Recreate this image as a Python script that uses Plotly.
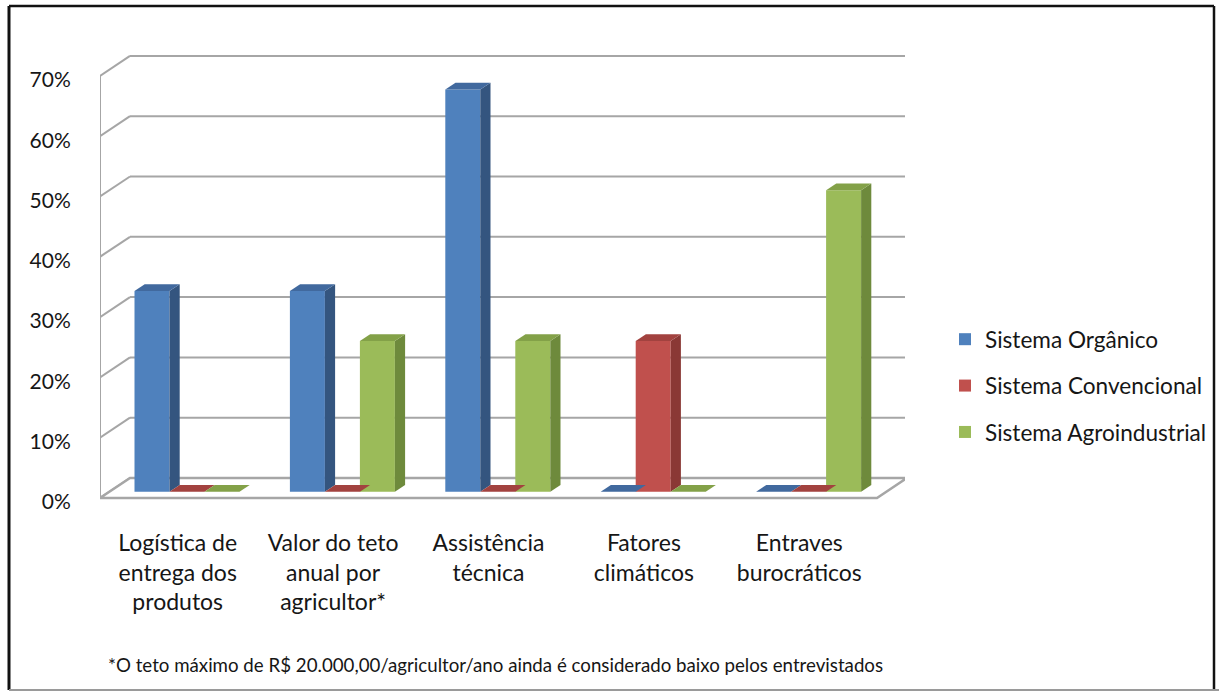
import plotly.graph_objects as go

# ---- data -------------------------------------------------------------
categories = [
    "Logística de<br>entrega dos<br>produtos",
    "Valor do teto<br>anual por<br>agricultor*",
    "Assistência<br>técnica",
    "Fatores<br>climáticos",
    "Entraves<br>burocráticos",
]
series_names = ["Sistema Orgânico", "Sistema Convencional", "Sistema Agroindustrial"]
organico = [33.3, 33.3, 66.7, 0, 0]
convencional = [0, 0, 0, 25, 0]
agroindustrial = [0, 25, 25, 0, 50]
y_ticks = [0, 10, 20, 30, 40, 50, 60, 70]
y_tick_labels = ["0%", "10%", "20%", "30%", "40%", "50%", "60%", "70%"]
footnote = "*O teto máximo de R$ 20.000,00/agricultor/ano ainda é considerado baixo pelos entrevistados"

series_values = [organico, convencional, agroindustrial]

# ---- styling ----------------------------------------------------------
W, H = 1219, 692
L_PX, R_PX, T_PX, B_PX = 100, 905, 50, 505          # plot area in pixels
X_PX_PER_UNIT = 155.4                                # pixels per category
Y_PX_PER_UNIT = 6.03                                 # pixels per percent
FLOOR_PX = 498                                       # pixel row of 0 % (front)
X_MAX = (R_PX - L_PX) / X_PX_PER_UNIT
Y_MIN = -(B_PX - FLOOR_PX) / Y_PX_PER_UNIT
Y_MAX = (FLOOR_PX - T_PX) / Y_PX_PER_UNIT

# oblique projection of the depth axis
DX = 30 / X_PX_PER_UNIT
DY = 20 / Y_PX_PER_UNIT
BAR_DEPTH_START = 0.31
BAR_DEPTH = 0.34
SX, SY = DX * BAR_DEPTH_START, DY * BAR_DEPTH_START
BDX, BDY = DX * BAR_DEPTH, DY * BAR_DEPTH
BW = 35 / X_PX_PER_UNIT

FRONT = ["#4F81BD", "#C0504D", "#9BBB59"]
SIDE = ["#34557F", "#8A3835", "#6E8A3C"]
TOP = ["#41699E", "#A2423F", "#83A148"]
GRID = "#A6A6A6"
FONT = "Lato, 'Open Sans', sans-serif"
TEXT = "#161616"

fig = go.Figure()

# ---- walls and floor -------------------------------------------------
shapes = []
for v in y_ticks:
    shapes.append(dict(type="line", xref="x", yref="y", x0=DX, y0=v + DY, x1=X_MAX, y1=v + DY,
                       line=dict(color=GRID, width=2), layer="below"))
    shapes.append(dict(type="line", xref="x", yref="y", x0=0, y0=v, x1=DX, y1=v + DY,
                       line=dict(color=GRID, width=2), layer="below"))
shapes.append(dict(type="line", xref="x", yref="y", x0=0, y0=0, x1=0, y1=y_ticks[-1],
                   line=dict(color=GRID, width=2), layer="below"))
n_cat = len(categories)
shapes.append(dict(type="path", xref="x", yref="y",
                   path=f"M 0 0 L {n_cat} 0 L {n_cat + DX} {DY} L {DX} {DY} Z",
                   fillcolor="white", line=dict(color=GRID, width=2.5), layer="below"))


def px_x(px):
    return (px - L_PX) / (R_PX - L_PX)


def px_y(py):
    return (B_PX - py) / (B_PX - T_PX)


# outer frame
shapes.append(dict(type="line", xref="paper", yref="paper", x0=px_x(9), y0=px_y(6), x1=px_x(1214), y1=px_y(6),
                   line=dict(color="#111111", width=2.5)))
shapes.append(dict(type="line", xref="paper", yref="paper", x0=px_x(9), y0=px_y(6), x1=px_x(9), y1=px_y(690),
                   line=dict(color="#111111", width=3)))
shapes.append(dict(type="line", xref="paper", yref="paper", x0=px_x(1214), y0=px_y(6), x1=px_x(1214), y1=px_y(690),
                   line=dict(color="#111111", width=2.5)))
shapes.append(dict(type="line", xref="paper", yref="paper", x0=px_x(9), y0=px_y(690), x1=px_x(1219), y1=px_y(690),
                   line=dict(color="#9A9A9A", width=2)))

# ---- 3D columns ------------------------------------------------------
for j, (name, vals) in enumerate(zip(series_names, series_values)):
    centers = [i + 0.5 + SX + (j - 1) * BW for i in range(n_cat)]
    for c, v in zip(centers, vals):
        x0, x1 = c - BW / 2, c + BW / 2
        top = SY + v
        if v > 0:
            fig.add_trace(go.Scatter(
                x=[x1, x1 + BDX, x1 + BDX, x1, x1],
                y=[SY, SY + BDY, top + BDY, top, SY],
                fill="toself", fillcolor=SIDE[j], mode="lines", line=dict(width=0),
                showlegend=False, hoverinfo="skip", legendgroup=name))
        fig.add_trace(go.Scatter(
            x=[x0, x1, x1 + BDX, x0 + BDX, x0],
            y=[top, top, top + BDY, top + BDY, top],
            fill="toself", fillcolor=TOP[j], mode="lines", line=dict(width=0),
            showlegend=False, hoverinfo="skip", legendgroup=name))
    fig.add_trace(go.Bar(
        x=centers, y=vals, base=[SY] * n_cat, width=BW, name=name,
        marker=dict(color=FRONT[j], line=dict(width=0)),
        legendgroup=name,
        hovertemplate="%{y:.1f}%<extra>" + name + "</extra>"))

fig.add_annotation(text=footnote, xref="paper", yref="paper",
                   x=px_x(106), y=px_y(665), xanchor="left", yanchor="middle",
                   showarrow=False, font=dict(family=FONT, size=18.7, color=TEXT))

fig.update_layout(
    width=W, height=H,
    margin=dict(l=L_PX, r=W - R_PX, t=T_PX, b=H - B_PX, pad=0, autoexpand=False),
    paper_bgcolor="white", plot_bgcolor="rgba(0,0,0,0)",
    barmode="overlay",
    shapes=shapes,
    font=dict(family=FONT, color=TEXT, size=21),
    showlegend=True,
    legend=dict(x=px_x(945), y=px_y(386), xanchor="left", yanchor="middle",
                font=dict(family=FONT, size=22.6, color=TEXT),
                tracegroupgap=14, bgcolor="rgba(0,0,0,0)"),
    xaxis=dict(range=[0, X_MAX], tickvals=[i + 0.5 for i in range(n_cat)], ticktext=categories,
               showgrid=False, zeroline=False, showline=False,
               ticks="outside", ticklen=17, tickcolor="rgba(0,0,0,0)", automargin=False,
               tickfont=dict(family=FONT, size=23, color=TEXT), fixedrange=True),
    yaxis=dict(range=[Y_MIN, Y_MAX], tickvals=y_ticks, ticktext=y_tick_labels,
               showgrid=False, zeroline=False, showline=False,
               ticks="outside", ticklen=24, tickcolor="rgba(0,0,0,0)", automargin=False,
               ticklabelshift=4,
               tickfont=dict(family=FONT, size=21, color=TEXT), fixedrange=True),
)

fig.write_html("out.html")
